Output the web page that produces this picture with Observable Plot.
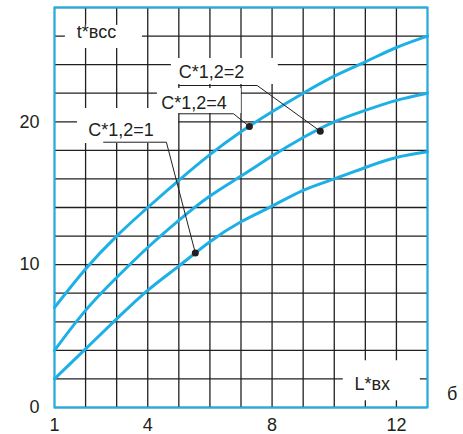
<!DOCTYPE html>
<html>
<head>
<meta charset="utf-8">
<script src="https://cdn.jsdelivr.net/npm/d3@7"></script>
<script src="https://cdn.jsdelivr.net/npm/@observablehq/plot@0.6"></script>
<style>
  html, body { margin: 0; padding: 0; background: #fff; }
  #chart svg { display: block; overflow: visible; }
</style>
</head>
<body>
<div id="chart"></div>
<script>
// ---- data ----
const xValues = [1, 2, 3, 4, 5, 6, 7, 8, 9, 10, 11, 12, 13];
const seriesC1 = [2.0, 4.1, 6.2, 8.2, 9.9, 11.6, 13.0, 14.1, 15.2, 16.0, 16.8, 17.5, 17.9];
const seriesC2 = [4.0, 6.8, 9.1, 11.2, 13.1, 14.8, 16.2, 17.6, 18.9, 20.0, 20.8, 21.5, 22.0];
const seriesC4 = [7.0, 9.7, 12.0, 14.0, 15.9, 17.7, 19.3, 20.7, 22.0, 23.2, 24.2, 25.2, 26.0];
const seriesNames = ["C*1,2=1", "C*1,2=2", "C*1,2=4"];

const xTickLabels = [1, 4, 8, 12];
const yTickLabels = [0, 10, 20];
const xGrid = [1, 2, 3, 4, 5, 6, 7, 8, 9, 10, 11, 12, 13];
const yGrid = [0, 2, 4, 6, 8, 10, 12, 14, 16, 18, 20, 22, 24, 26, 28];

// annotation texts (axis names + curve labels) and their cleared boxes, in data units
const annText = ["t*всс", "L*вх", "C*1,2=1", "C*1,2=4", "C*1,2=2"];
const annX = [2.35, 11.22, 3.14, 5.49, 6.05];
const annY = [26.28, 1.66, 19.39, 21.28, 23.49];
const boxX1 = [1.35, 10.29, 1.74, 4.31, 4.76];
const boxX2 = [3.83, 12.77, 4.99, 7.01, 8.20];
const boxY1 = [25.13, 0.47, 18.48, 20.58, 22.61];
const boxY2 = [26.75, 3.27, 20.93, 22.33, 24.43];

// leader lines: start of underline, elbow, dot on the curve
const leaderNames = ["C*1,2=1", "C*1,2=4", "C*1,2=2"];
const leaderStartX = [2.58, 5.02, 5.02];
const leaderY = [18.57, 20.56, 22.54];
const leaderElbowX = [4.60, 6.76, 7.52];
const dotX = [5.53, 7.27, 9.55];
const dotY = [10.82, 19.67, 19.34];

const panelLabel = ["б"];
const panelX = [13.79];
const panelY = [0.96];

// ---- build tables ----
const allSeries = [seriesC1, seriesC2, seriesC4];
const curves = [];
allSeries.forEach((s, i) => xValues.forEach((x, j) => curves.push({series: seriesNames[i], x, y: s[j]})));

const boxes = annText.map((t, i) => ({t, x1: boxX1[i], x2: boxX2[i], y1: boxY1[i], y2: boxY2[i]}));
const texts = annText.map((t, i) => ({t, x: annX[i], y: annY[i]}));
const leaders = [];
leaderNames.forEach((n, i) => {
  leaders.push({n, x: leaderStartX[i], y: leaderY[i]});
  leaders.push({n, x: leaderElbowX[i], y: leaderY[i]});
  leaders.push({n, x: dotX[i], y: dotY[i]});
});
const dots = leaderNames.map((n, i) => ({n, x: dotX[i], y: dotY[i]}));
const panel = panelLabel.map((t, i) => ({t, x: panelX[i], y: panelY[i]}));

const blue = "#1cb0e6";
const ink = "#231f20";
const font = "Liberation Sans, Arial, sans-serif";

const chart = Plot.plot({
  width: 463,
  height: 434,
  marginLeft: 54,
  marginRight: 36,
  marginTop: 7,
  marginBottom: 27,
  style: {fontFamily: font, fontSize: "18px", color: ink, background: "#fff", overflow: "visible"},
  x: {domain: [1, 13]},
  y: {domain: [0, 28]},
  marks: [
    Plot.gridX(xGrid, {stroke: ink, strokeOpacity: 1, strokeWidth: 1.3}),
    Plot.gridY(yGrid, {stroke: ink, strokeOpacity: 1, strokeWidth: 1.3}),
    Plot.rect(boxes, {x1: "x1", x2: "x2", y1: "y1", y2: "y2", fill: "#fff"}),
    Plot.frame({stroke: blue, strokeWidth: 2}),
    Plot.line(curves, {x: "x", y: "y", z: "series", stroke: blue, strokeWidth: 3, curve: "natural"}),
    Plot.line(leaders, {x: "x", y: "y", z: "n", stroke: ink, strokeWidth: 1}),
    Plot.dot(dots, {x: "x", y: "y", r: 3.5, fill: ink, stroke: "none"}),
    Plot.text(texts, {x: "x", y: "y", text: "t", fill: ink, fontSize: 18}),
    Plot.text(panel, {x: "x", y: "y", text: "t", fill: ink, fontSize: 18}),
    Plot.axisX(xTickLabels, {tickSize: 0, tickPadding: 11, fontSize: 18, fill: ink, label: null}),
    Plot.axisY(yTickLabels, {tickSize: 0, tickPadding: 15, fontSize: 18, fill: ink, label: null})
  ]
});
document.getElementById("chart").appendChild(chart);
</script>
</body>
</html>
